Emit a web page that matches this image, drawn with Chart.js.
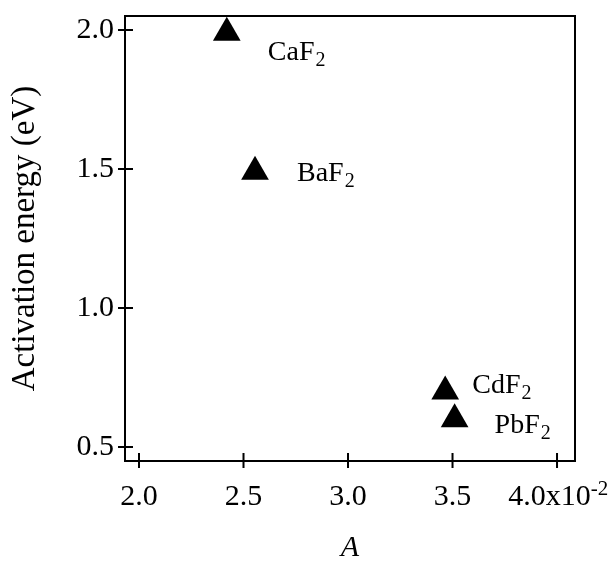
<!DOCTYPE html>
<html>
<head>
<meta charset="utf-8">
<script src="https://cdn.jsdelivr.net/npm/chart.js@4"></script>
<style>
  html, body { margin: 0; padding: 0; background: #fff; }
  #wrap { width: 611px; height: 570px; }
</style>
</head>
<body>
<div id="wrap"><canvas id="myChart" width="611" height="570"></canvas></div>
<script>
// compounds and their values
const compounds = ["CaF", "BaF", "CdF", "PbF"];
const aValues = [2.42, 2.555, 3.465, 3.51];
const energies = [1.99, 1.49, 0.70, 0.60];

const xTicks = [2.0, 2.5, 3.0, 3.5, 4.0];
const xTickLabels = ["2.0", "2.5", "3.0", "3.5", "4.0x10"];
const xExponent = "-2";
const yTicks = [0.5, 1.0, 1.5, 2.0];
const yTickLabels = ["0.5", "1.0", "1.5", "2.0"];

// where each label sits relative to its triangle (px)
const labelOffsets = [[41, 27], [42, 9], [27, 2], [40, 14]];

const FONT = "'Liberation Serif', 'Times New Roman', serif";
// trailing room so the last label + exponent is centred on its tick
const PAD = "  ";

const boxPlugin = {
  id: "box",
  afterDraw(chart) {
    const ctx = chart.ctx;
    const a = chart.chartArea;
    const xs = chart.scales.x, ys = chart.scales.y;
    ctx.save();
    ctx.strokeStyle = "#000";
    ctx.lineWidth = 2;
    ctx.strokeRect(a.left, a.top, a.right - a.left, a.bottom - a.top);
    // ticks crossing the axes
    ctx.beginPath();
    xTicks.forEach(v => {
      const px = xs.getPixelForValue(v);
      ctx.moveTo(px, a.bottom - 8);
      ctx.lineTo(px, a.bottom + 7);
    });
    yTicks.forEach(v => {
      const py = ys.getPixelForValue(v);
      ctx.moveTo(a.left - 7, py);
      ctx.lineTo(a.left + 8, py);
    });
    ctx.stroke();

    // exponent after the last x tick label
    ctx.fillStyle = "#000";
    ctx.font = "30px " + FONT;
    const last = xTickLabels[xTickLabels.length - 1];
    const full = ctx.measureText(last + PAD).width;
    const w = ctx.measureText(last).width;
    const lx = xs.getPixelForValue(xTicks[xTicks.length - 1]) - full / 2 + w;
    ctx.font = "21px " + FONT;
    ctx.textBaseline = "alphabetic";
    ctx.textAlign = "left";
    ctx.fillText(xExponent, lx, a.bottom + 34);

    // compound labels with subscript 2
    const meta = chart.getDatasetMeta(0);
    meta.data.forEach((pt, i) => {
      const x = pt.x + labelOffsets[i][0];
      const y = pt.y + labelOffsets[i][1];
      ctx.font = "28px " + FONT;
      ctx.fillText(compounds[i], x, y);
      const cw = ctx.measureText(compounds[i]).width;
      ctx.font = "20px " + FONT;
      ctx.fillText("2", x + cw + 1, y + 6);
    });
    ctx.restore();
  }
};

new Chart("myChart", {
  type: "scatter",
  data: {
    datasets: [{
      data: aValues.map((a, i) => ({ x: a, y: energies[i] })),
      pointStyle: "triangle",
      radius: 16,
      hoverRadius: 16,
      backgroundColor: "#000",
      borderColor: "#000",
      borderWidth: 0
    }]
  },
  options: {
    responsive: false,
    animation: false,
    layout: { padding: { top: 10, right: 36, left: 0, bottom: 0 } },
    plugins: { legend: { display: false }, tooltip: { enabled: false } },
    scales: {
      x: {
        type: "linear",
        min: 1.933,
        max: 4.086,
        afterBuildTicks: s => { s.ticks = xTicks.map(v => ({ value: v })); },
        afterFit: s => { s.height = 109; s.paddingLeft = 0; s.paddingRight = 0; },
        grid: { display: false, drawTicks: false },
        border: { display: false },
        ticks: {
          color: "#000",
          font: { family: FONT, size: 30 },
          padding: 18,
          maxRotation: 0,
          autoSkip: false,
          callback: (v, i) => i === xTickLabels.length - 1 ? xTickLabels[i] + PAD : xTickLabels[i]
        },
        title: {
          display: true,
          text: "A",
          color: "#000",
          font: { family: FONT, size: 30, style: "italic" },
          padding: { top: 0, bottom: 4 }
        }
      },
      y: {
        type: "linear",
        min: 0.45,
        max: 2.05,
        afterBuildTicks: s => { s.ticks = yTicks.map(v => ({ value: v })); },
        afterFit: s => { s.width = 125; s.paddingTop = 0; s.paddingBottom = 0; },
        grid: { display: false, drawTicks: false },
        border: { display: false },
        ticks: {
          color: "#000",
          font: { family: FONT, size: 30 },
          padding: 11,
          autoSkip: false,
          callback: (v, i) => yTickLabels[i]
        },
        title: {
          display: true,
          text: "Activation energy (eV)",
          color: "#000",
          font: { family: FONT, size: 33 },
          padding: { top: 6, bottom: 0 }
        }
      }
    }
  },
  plugins: [boxPlugin]
});
</script>
</body>
</html>
